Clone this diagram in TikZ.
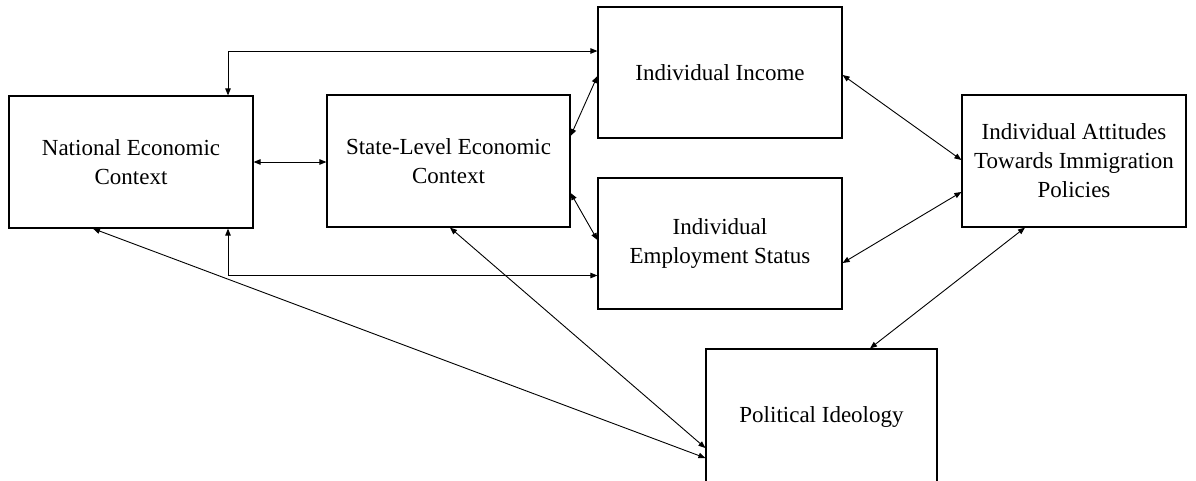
\documentclass[tikz,border=0pt]{standalone}
\usepackage{fontspec}
\setmainfont{Liberation Serif}
\usetikzlibrary{arrows.meta}
\begin{document}
\begin{tikzpicture}[x=1pt,y=-1pt,
  box/.style={draw, line width=1.2pt, rectangle, inner sep=0pt, align=center,
    font=\fontsize{23}{29}\selectfont},
  link/.style={line width=0.9pt, {Triangle[length=7pt,width=5.5pt]}-{Triangle[length=7pt,width=5.5pt]}}]
\useasboundingbox (0,0) rectangle (1196,480);
\node[box, minimum width=244pt, minimum height=132pt] (nat) at (131,162) {National Economic\\Context};
\node[box, minimum width=243pt, minimum height=132pt] (st) at (448.5,161) {State-Level Economic\\Context};
\node[box, minimum width=244pt, minimum height=131pt] (inc) at (720,72.5) {Individual Income};
\node[box, minimum width=244pt, minimum height=131pt] (emp) at (720,243.5) {Individual\\Employment Status};
\node[box, minimum width=224pt, minimum height=132pt] (att) at (1074,161) {Individual Attitudes\\Towards Immigration\\Policies};
\node[box, minimum width=231pt, minimum height=136pt] (pol) at (821.5,417) {Political Ideology};
\draw[link] ([xshift=97pt]nat.north) |- ([yshift=21.5pt]inc.west);
\draw[link] (nat.east) -- (nat.east -| st.west);
\draw[link] ([xshift=97pt]nat.south) |- ([yshift=-32pt]emp.west);
\draw[link] ([yshift=25pt]st.east) -- ([yshift=-3.5pt]inc.west);
\draw[link] ([yshift=-32pt]st.east) -- ([yshift=3.5pt]emp.west);
\draw[link] ([yshift=-2.5pt]inc.east) -- ([yshift=1pt]att.west);
\draw[link] ([yshift=-19.5pt]emp.east) -- ([yshift=-31pt]att.west);
\draw[link] ([xshift=48.5pt]pol.north) -- ([xshift=-49pt]att.south);
\draw[link] ([xshift=-38pt]nat.south) -- ([yshift=-41pt]pol.west);
\draw[link] ([xshift=1.5pt]st.south) -- ([yshift=-31pt]pol.west);
\end{tikzpicture}
\end{document}
